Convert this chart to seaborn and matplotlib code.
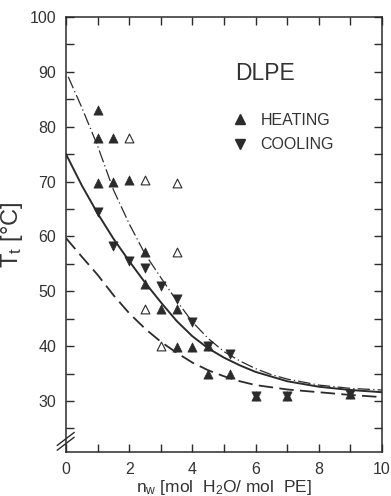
import numpy as np
import pandas as pd
import matplotlib
matplotlib.use("Agg")
import matplotlib.pyplot as plt
from matplotlib.lines import Line2D
import seaborn as sns

# ---- data ----
heat_x = [1, 1, 1.5, 1, 1.5, 2, 2.5, 2.5, 3, 3.5, 3.5, 4, 4.5, 4.5, 5.2, 6, 7, 9]
heat_y = [83, 78, 78, 69.7, 70, 70.3, 57.2, 51.3, 46.8, 46.8, 39.8, 39.8, 40, 35, 35, 30.9, 30.9, 31.3]

heat_open_x = [2, 2.5, 3.5, 3.5, 2.5, 3]
heat_open_y = [78, 70.3, 69.7, 57.2, 46.8, 40]

cool_x = [1, 1.5, 2, 2.5, 3, 3.5, 4, 4.5, 5.2, 6, 7, 9]
cool_y = [64.5, 58.3, 55.5, 54.2, 51, 48.6, 44.4, 40, 38.6, 30.9, 30.9, 31.3]

dashdot_x = [0.07, 0.5, 1, 1.5, 2, 2.5, 3, 3.5, 4, 4.5, 5, 5.5, 6, 6.5, 7, 8, 9, 10]
dashdot_y = [89.1, 83.5, 76.5, 68.5, 62.3, 56.8, 52.5, 48.3, 44.4, 41.4, 39, 37.3, 35.9, 34.8, 34, 32.9, 32.3, 32]

solid_x = [0, 0.5, 1, 1.5, 2, 2.5, 3, 3.5, 4, 4.5, 5, 5.5, 6, 7, 8, 9, 10]
solid_y = [75, 69.3, 64.2, 59.6, 55.5, 51.6, 48, 44.6, 41.8, 39.6, 37.9, 36.5, 35.3, 33.6, 32.6, 32, 31.6]

dashed_x = [0, 0.5, 1, 1.5, 2, 2.5, 3, 3.5, 4, 4.5, 5, 5.5, 6, 7, 8, 9, 10]
dashed_y = [59.7, 56.3, 53, 49.3, 46, 43.2, 40.8, 38.8, 37, 35.6, 34.5, 33.6, 32.9, 32.1, 31.6, 31.1, 30.7]

x_ticks = [0, 2, 4, 6, 8, 10]
y_ticks = [30, 40, 50, 60, 70, 80, 90, 100]

INK = "#2b2b2b"

sns.set_style("ticks")
plt.rcParams["font.family"] = ["Liberation Sans", "DejaVu Sans"]
plt.rcParams["mathtext.fontset"] = "custom"
plt.rcParams["mathtext.rm"] = "Liberation Sans"
plt.rcParams["mathtext.it"] = "Liberation Sans"

fig = plt.figure(figsize=(3.91, 4.96), dpi=100)
ax = fig.add_axes([66/391, 1-452/496, (382-66)/391, (452-17)/496])

sns.lineplot(x=dashdot_x, y=dashdot_y, ax=ax, color=INK, lw=0.9, sort=False,
             linestyle=(0, (10, 2.5, 1, 2.5)))
sns.lineplot(x=solid_x, y=solid_y, ax=ax, color=INK, lw=1.4, sort=False)
sns.lineplot(x=dashed_x, y=dashed_y, ax=ax, color=INK, lw=1.3, sort=False,
             linestyle=(0, (8, 3.5)))

sns.scatterplot(x=heat_x, y=heat_y, ax=ax, marker="^", s=44, color=INK,
                edgecolor=INK, linewidth=0.5, zorder=5)
sns.scatterplot(x=cool_x, y=cool_y, ax=ax, marker="v", s=44, color=INK,
                edgecolor=INK, linewidth=0.5, zorder=5)
sns.scatterplot(x=heat_open_x, y=heat_open_y, ax=ax, marker="^", s=40,
                facecolor="white", edgecolor=INK, linewidth=0.8, zorder=5)

ax.set_xlim(0, 10)
ax.set_ylim(20.7, 100)
ax.set_xticks(x_ticks)
ax.set_xticks(np.arange(1, 10, 2), minor=True)
ax.set_yticks(y_ticks)
ax.set_yticks(np.arange(25, 100, 10), minor=True)
ax.set_xticklabels([str(t) for t in x_ticks])
ax.set_yticklabels([str(t) for t in y_ticks])

for s in ax.spines.values():
    s.set_visible(True)
    s.set_linewidth(1.1)
    s.set_color(INK)
ax.tick_params(which="both", direction="in", length=6, width=1.0, color=INK,
               top=True, right=True, labelsize=11.5, labelcolor="#333333", pad=7)

ax.set_xlabel(r"n$_w$ [mol  H$_2$O/ mol  PE]", fontsize=12.5, color="#333333", labelpad=1)
ax.set_ylabel(r"T$_t$ [°C]", fontsize=17, color="#333333", labelpad=3)

ax.text(0.535, 0.87, "DLPE", transform=ax.transAxes, fontsize=16.5,
        color="#333333", ha="left", va="center")

handles = [Line2D([], [], marker="^", ls="", color=INK, ms=7),
           Line2D([], [], marker="v", ls="", color=INK, ms=7)]
ax.legend(handles, ["HEATING", "COOLING"], loc="upper left",
          bbox_to_anchor=(0.525, 0.78), frameon=False, fontsize=11.5,
          handlelength=1.0, handletextpad=0.8, labelspacing=0.6,
          borderpad=0, borderaxespad=0, labelcolor="#333333")

# axis-break mark on the left spine
for dy in (0.0, 0.011):
    ax.plot([-0.028, 0.026], [0.004 + dy, 0.034 + dy], transform=ax.transAxes,
            color=INK, lw=1.0, clip_on=False)

fig.savefig("out.png", dpi=100, facecolor="white")
